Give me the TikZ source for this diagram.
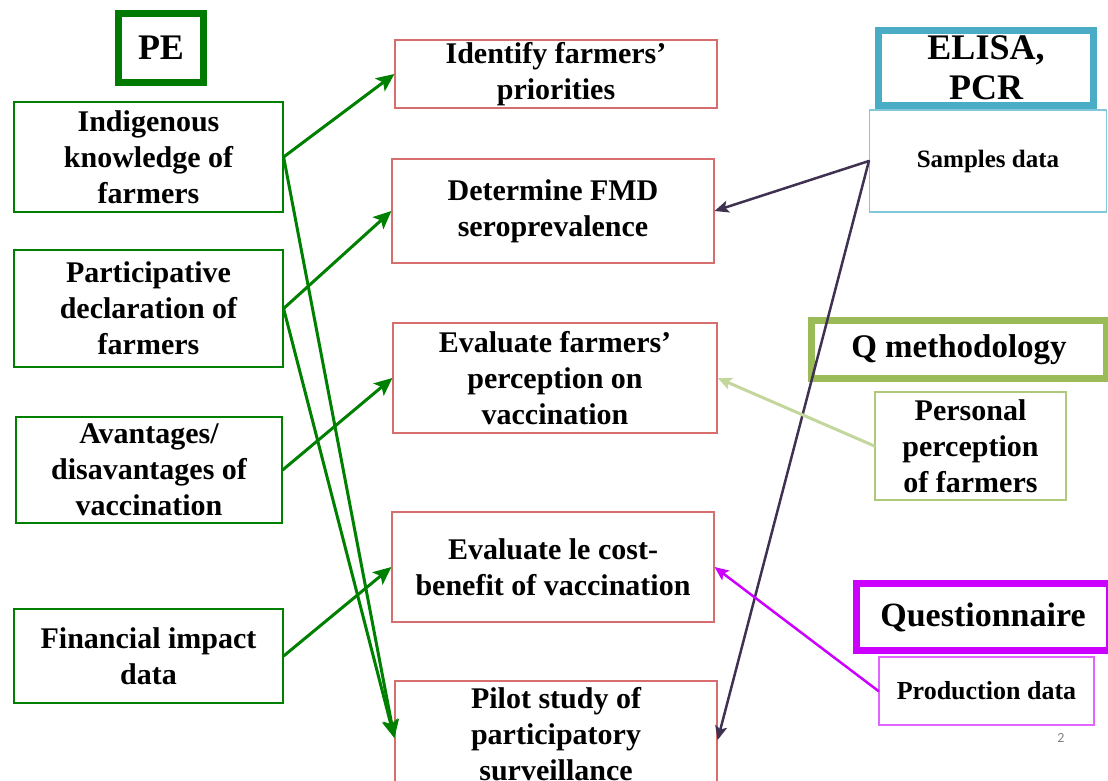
\documentclass[tikz,border=0pt]{standalone}
\usepackage{fontspec}
\setmainfont{Liberation Serif}
\newfontfamily\pagenumfont{Carlito}
\usetikzlibrary{arrows.meta}
\definecolor{pegreen}{RGB}{0,122,0}
\definecolor{linkgreen}{RGB}{0,128,0}
\definecolor{aimred}{RGB}{214,110,110}
\definecolor{elisablue}{RGB}{75,172,198}
\definecolor{sampleblue}{RGB}{130,200,218}
\definecolor{qgreen}{RGB}{155,187,89}
\definecolor{qlight}{RGB}{195,214,155}
\definecolor{quesmag}{RGB}{204,0,255}
\definecolor{prodmag}{RGB}{224,100,255}
\definecolor{samplink}{RGB}{63,49,81}

\begin{document}
\begin{tikzpicture}[x=1pt,y=-1pt,>={Stealth[length=18pt,width=16pt,inset=4pt]},line cap=round,
  txt/.style={align=center,inner sep=0pt,font=\bfseries\fontsize{30}{36}\selectfont},
  srcbox/.style={txt,draw=linkgreen,line width=1.2pt},
  aimbox/.style={txt,draw=aimred,line width=1.2pt},
  toolbox/.style={align=center,inner sep=0pt,line width=7pt,font=\bfseries\fontsize{36}{40}\selectfont},
  thinhead/.style={-{Stealth[length=14pt,width=12pt,inset=3pt]}}]
\fill[white] (0,0) rectangle (1108,780);
\useasboundingbox (0,0) rectangle (1108,780);

% participatory epidemiology inputs
\node[toolbox,draw=pegreen,minimum width=85pt,minimum height=69pt] (pe) at (161,48) {PE};
\node[srcbox,minimum width=269pt,minimum height=110pt] (indig) at (148.5,157) {Indigenous\\knowledge of\\farmers};
\node[srcbox,minimum width=269pt,minimum height=117pt] (partic) at (148.5,308.5) {Participative\\declaration of\\farmers};
\node[srcbox,minimum width=266pt,minimum height=106pt] (avant) at (149,470) {Avantages/\\disavantages of\\vaccination};
\node[srcbox,minimum width=269pt,minimum height=94pt] (financ) at (148.5,656) {Financial impact\\data};

% objectives
\node[aimbox,minimum width=322pt,minimum height=68pt] (ident) at (556,74) {Identify farmers’\\priorities};
\node[aimbox,minimum width=322pt,minimum height=104pt] (determ) at (553,211) {Determine FMD\\seroprevalence};
\node[aimbox,minimum width=324pt,minimum height=110pt] (percep) at (555,378) {Evaluate farmers’\\perception on\\vaccination};
\node[aimbox,minimum width=322pt,minimum height=110pt] (cost) at (553,567) {Evaluate le cost-\\benefit of vaccination};
\node[aimbox,minimum width=322pt,minimum height=106pt] (pilot) at (556,734) {Pilot study of\\participatory\\surveillance};

% tools on the right
\node[toolbox,draw=elisablue,minimum width=215pt,minimum height=74.5pt] (elisa) at (986,68) {ELISA,\\PCR};
\node[txt,draw=sampleblue,line width=1.2pt,minimum width=237pt,minimum height=102pt,
  font=\bfseries\fontsize{25}{30}\selectfont] (sampl) at (988,161) {Samples data};
\node[toolbox,draw=qgreen,minimum width=295pt,minimum height=58pt,
  font=\bfseries\fontsize{33}{38}\selectfont] (qmeth) at (959,349.5) {Q methodology};
\node[txt,draw=qgreen!80,line width=1.2pt,minimum width=191pt,minimum height=108pt] (person) at (970.5,446) {Personal\\perception\\of farmers};
\node[toolbox,draw=quesmag,minimum width=253pt,minimum height=67pt,
  font=\bfseries\fontsize{34}{38}\selectfont] (quest) at (983,617) {Questionnaire};
\node[txt,draw=prodmag,line width=1.2pt,minimum width=215pt,minimum height=68pt,
  font=\bfseries\fontsize{26}{30}\selectfont] (prod) at (986.5,691) {Production data};
\node[text=gray,font=\pagenumfont\fontsize{14}{16}\selectfont] (pagenum) at (1061,738) {2};

% links
\draw[->,linkgreen,line width=3pt] (indig.east) -- (ident.west);
\draw[->,linkgreen,line width=3pt] (indig.east) -- ([yshift=-4pt]pilot.west);
\draw[->,linkgreen,line width=3pt] (partic.east) -- (determ.west);
\draw[->,linkgreen,line width=3pt] (partic.east) -- ([yshift=-4pt]pilot.west);
\draw[->,linkgreen,line width=3pt] (avant.east) -- (percep.west);
\draw[->,linkgreen,line width=3pt] (financ.east) -- (cost.west);
\draw[thinhead,samplink,line width=2.5pt] (sampl.west) -- (determ.east);
\draw[thinhead,samplink,line width=2.5pt] (sampl.west) -- ([yshift=-6pt]pilot.east);
\draw[thinhead,qlight,line width=3pt] (person.west) -- (percep.east);
\draw[thinhead,quesmag,line width=2.5pt] (prod.west) -- (cost.east);
\end{tikzpicture}
\end{document}
